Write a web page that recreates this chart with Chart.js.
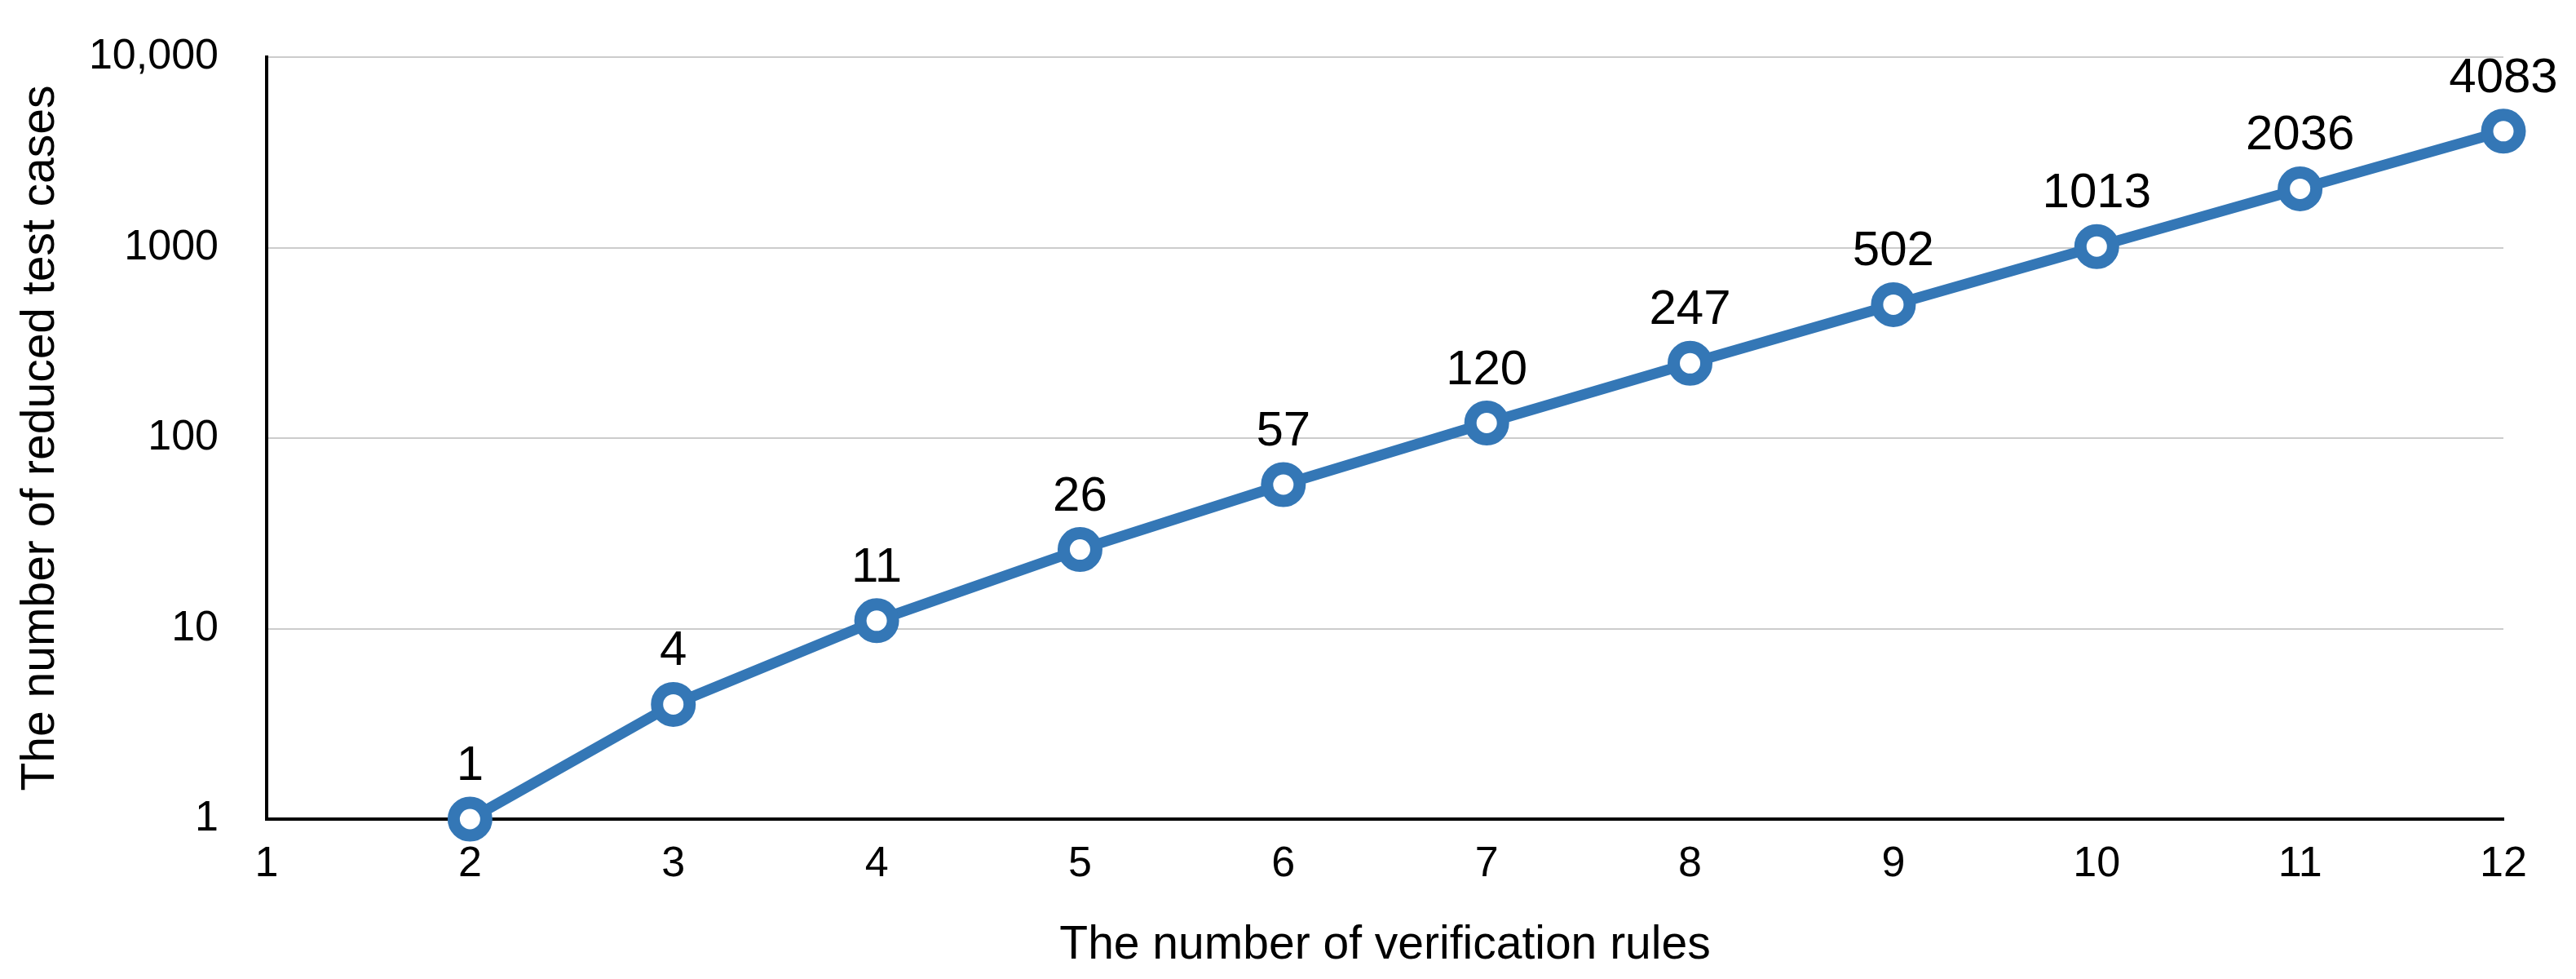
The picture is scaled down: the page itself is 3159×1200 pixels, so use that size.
<!DOCTYPE html>
<html>
<head>
<meta charset="utf-8">
<script src="https://cdn.jsdelivr.net/npm/chart.js@4.4.0/dist/chart.umd.min.js"></script>
<style>
  html, body { margin: 0; padding: 0; background: #fff; }
</style>
</head>
<body>
<canvas id="rulesChart" width="3159" height="1200"></canvas>
<script>
// data
const rules = [2, 3, 4, 5, 6, 7, 8, 9, 10, 11, 12];
const reducedCases = [1, 4, 11, 26, 57, 120, 247, 502, 1013, 2036, 4083];
const yTicks = [1, 10, 100, 1000, 10000];
const yTickLabels = ['1', '10', '100', '1000', '10,000'];

const FONT = 'Helvetica, "Liberation Sans", Arial, sans-serif';
const BLUE = '#3477b6';

// draws the number above each point
const valueLabels = {
    id: 'valueLabels',
    afterDatasetsDraw(chart) {
        const ctx = chart.ctx;
        const meta = chart.getDatasetMeta(0);
        ctx.save();
        ctx.font = '60px ' + FONT;
        ctx.fillStyle = '#000';
        ctx.textAlign = 'center';
        ctx.textBaseline = 'alphabetic';
        meta.data.forEach((pt, i) => {
            ctx.fillText(String(reducedCases[i]), pt.x, pt.y - 48);
        });
        ctx.restore();
    }
};

const ctx = document.getElementById('rulesChart').getContext('2d');
const rulesChart = new Chart(ctx, {
    type: 'line',
    data: {
        datasets: [{
            data: rules.map((r, i) => ({ x: r, y: reducedCases[i] })),
            borderColor: BLUE,
            borderWidth: 13,
            pointRadius: 20,
            pointBorderWidth: 15,
            pointBackgroundColor: '#fff',
            pointBorderColor: BLUE,
            tension: 0,
            clip: false
        }]
    },
    options: {
        responsive: false,
        animation: false,
        devicePixelRatio: 1,
        layout: { padding: { top: 70, right: 89, left: 0, bottom: 0 } },
        plugins: {
            legend: { display: false },
            tooltip: { enabled: false }
        },
        scales: {
            x: {
                type: 'linear',
                min: 1,
                max: 12,
                afterFit(scale) {
                    scale.height = 196;
                    scale.paddingLeft = 0;
                    scale.paddingRight = 0;
                },
                grid: { display: false, drawTicks: false },
                border: { color: '#000', width: 4 },
                ticks: {
                    stepSize: 1,
                    padding: 24,
                    color: '#000',
                    font: { family: FONT, size: 52 }
                },
                title: {
                    display: true,
                    text: 'The number of verification rules',
                    color: '#000',
                    font: { family: FONT, size: 57 },
                    padding: { top: 4, bottom: 7 }
                }
            },
            y: {
                type: 'logarithmic',
                min: 1,
                max: 10000,
                afterFit(scale) {
                    scale.width = 327;
                    scale.paddingTop = 0;
                    scale.paddingBottom = 0;
                },
                afterBuildTicks(scale) {
                    scale.ticks = yTicks.map(v => ({ value: v }));
                },
                grid: { color: '#cccccc', lineWidth: 2, drawTicks: false },
                border: { color: '#000', width: 4 },
                ticks: {
                    padding: 59,
                    color: '#000',
                    font: { family: FONT, size: 52 },
                    callback(value) {
                        const k = yTicks.indexOf(value);
                        return k >= 0 ? yTickLabels[k] : '';
                    }
                },
                title: {
                    display: true,
                    text: 'The number of reduced test cases',
                    color: '#000',
                    font: { family: FONT, size: 57 },
                    padding: { top: 16, bottom: 0 }
                }
            }
        }
    },
    plugins: [valueLabels]
});
</script>
</body>
</html>
